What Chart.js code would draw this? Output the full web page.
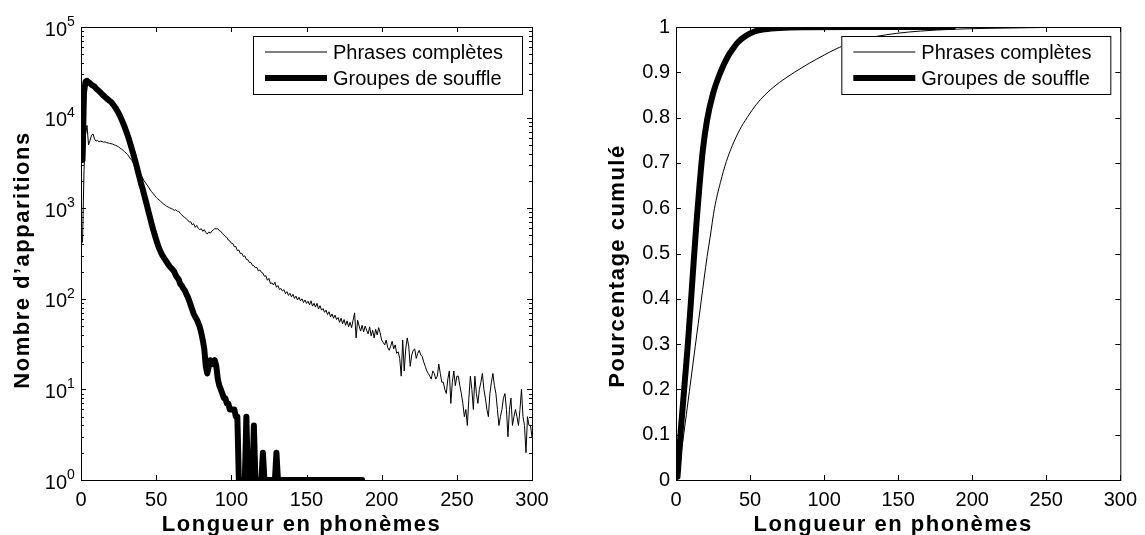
<!DOCTYPE html>
<html>
<head>
<meta charset="utf-8">
<title>Longueur en phonèmes</title>
<script src="https://cdn.jsdelivr.net/npm/chart.js@4.4.1/dist/chart.umd.min.js"></script>
<style>
    html, body { margin: 0; padding: 0; background: #fff; }
    #wrap { position: relative; width: 1145px; height: 535px; }
    .panel { position: absolute; top: 0; height: 535px; }
</style>
</head>
<body>
<div id="wrap">
    <div class="panel" style="left:0;width:572px"><canvas id="countChart" width="572" height="535"></canvas></div>
    <div class="panel" style="left:572px;width:573px"><canvas id="cumulChart" width="573" height="535"></canvas></div>
</div>
<script>
// ---- data ----
const seriesNames = ["Phrases complètes", "Groupes de souffle"];
const xTitle = "Longueur en phonèmes";
const countTitle = "Nombre d’apparitions";
const cumulTitle = "Pourcentage cumulé";
const xTickValues = [0, 50, 100, 150, 200, 250, 300];
const logDecades = [0, 1, 2, 3, 4, 5];
const cumulTickValues = [0, 0.1, 0.2, 0.3, 0.4, 0.5, 0.6, 0.7, 0.8, 0.9, 1];

// occurrences per length 1..300 (full sentences)
const phrasesCounts = [
    420, 2600, 6500, 8200, 5000, 5600, 6400, 6600, 5800, 5500,
    5600, 5400, 5500, 5450, 5350, 5400, 5300, 5250, 5200, 5150,
    5100, 5000, 4950, 4850, 4750, 4600, 4500, 4350, 4200, 4050,
    3900, 3700, 3500, 3350, 3150, 2950, 2800, 2600, 2450, 2300,
    2150, 2000, 1900, 1800, 1700, 1600, 1520, 1450, 1380, 1320,
    1270, 1230, 1190, 1150, 1110, 1080, 1050, 1030, 1010, 990,
    975, 945, 960, 925, 925, 875, 845, 810, 790, 765,
    740, 705, 710, 655, 675, 615, 645, 600, 580, 595,
    555, 580, 540, 520, 548, 528, 558, 575, 595, 590,
    595, 565, 555, 525, 512, 485, 476, 445, 435, 410,
    408, 375, 378, 340, 346, 315, 318, 292, 298, 272,
    270, 252, 252, 234, 232, 220, 222, 203, 208, 196,
    192, 177, 180, 160, 168, 147, 150, 142, 152, 134,
    140, 127, 130, 122, 126, 114, 120, 109, 115, 105,
    112, 101, 107, 97, 104, 95, 100, 91, 97, 89,
    94, 86, 95, 83, 89, 81, 89, 77, 84, 75,
    78, 71, 75, 67, 72, 63, 68, 61, 66, 59,
    62, 55, 61, 53, 59, 51, 57, 49, 55, 48,
    58, 70, 37, 58, 50, 44, 51, 43, 50, 45,
    41, 49, 39, 45, 37, 46, 40, 48, 42, 35,
    33, 31, 35, 29, 27, 30, 34, 28, 31, 25,
    26, 22, 14, 35, 16, 28, 37, 30, 18, 24,
    27, 28, 22, 25, 27, 24, 23, 20, 18, 16,
    15, 14, 13, 16, 15, 13, 14, 19, 15, 12,
    12, 10, 9, 13, 16, 7, 12, 16, 11, 14,
    14, 11, 9, 7, 5, 6, 4, 8, 14, 10,
    6, 14, 9, 7, 10, 12, 15, 10, 8, 6,
    5, 9, 12, 15, 11, 9, 6, 4, 5, 6,
    8, 9, 6, 3, 6, 8, 4, 5, 6, 5,
    4, 6, 10, 5, 4, 2, 5, 4, 4, 3
];

// occurrences per length 1..187 (breath groups)
const groupCounts = [
    3400, 19000, 25000, 25500, 24500, 24000, 23000, 22500, 22000, 21000,
    20300, 19600, 18900, 18200, 17500, 16900, 16300, 15800, 15300, 14900,
    14200, 13500, 12800, 12000, 11200, 10400, 9500, 8700, 7900, 7100,
    6400, 5700, 5000, 4400, 3850, 3350, 2900, 2500, 2150, 1850,
    1640, 1410, 1220, 1050, 900, 780, 670, 580, 510, 450,
    400, 360, 330, 305, 285, 270, 255, 240, 228, 218,
    210, 200, 182, 172, 163, 146, 140, 130, 124, 114,
    105, 95, 85, 76, 68, 63, 59, 54, 49, 42,
    35, 28, 18, 15, 18, 21, 20, 19, 21, 18,
    13, 11, 10, 9, 8, 8, 7, 7, 6, 6,
    6, 6, 5, 5, 1, 1, 1, 1, 1, 5,
    1, 1, 1, 1, 4, 1, 1, 1, 1, 1,
    2, 1, 1, 1, 1, 1, 1, 1, 1, 2,
    1, 1, 1, 1, 1, 1, 1, 1, 1, 1,
    1, 1, 1, 1, 1, 1, 1, 1, 1, 1,
    1, 1, 1, 1, 1, 1, 1, 1, 1, 1,
    1, 1, 1, 1, 1, 1, 1, 1, 1, 1,
    1, 1, 1, 1, 1, 1, 1, 1, 1, 1,
    1, 1, 1, 1, 1, 1, 1
];

// cumulative share, read at selected lengths
const phrasesCumX = [1, 2, 3, 5, 7, 9, 11, 13, 15, 17, 19, 21, 23, 26, 30, 34, 38, 43, 48, 54,
    60, 70, 80, 90, 100, 107, 114, 125, 135, 149, 165, 187, 210, 230, 250, 275, 300];
const phrasesCumY = [0.002, 0.013, 0.046, 0.095, 0.145, 0.195, 0.245, 0.295, 0.345, 0.395,
    0.445, 0.493, 0.535, 0.6, 0.657, 0.703, 0.738, 0.773, 0.8, 0.828,
    0.85, 0.878, 0.9, 0.92, 0.938, 0.95, 0.96, 0.972, 0.979, 0.986,
    0.991, 0.995, 0.997, 0.998, 0.999, 0.9995, 1];
const groupCumX = [1, 2, 3, 4, 5, 6, 8, 10, 12, 14, 16, 18, 21, 25, 30, 35, 38, 42, 47, 53,
    60, 70, 85, 120, 187];
const groupCumY = [0.007, 0.05, 0.1, 0.14, 0.18, 0.22, 0.3, 0.39, 0.485, 0.575,
    0.655, 0.725, 0.795, 0.853, 0.9, 0.935, 0.95, 0.967, 0.98, 0.99,
    0.995, 0.998, 0.9995, 1, 1];

// ---- helpers ----
const FONT = "'Liberation Sans', Arial, Helvetica, sans-serif";
Chart.defaults.font.family = FONT;
Chart.defaults.color = '#000';

const byLength = counts => counts.map((v, i) => ({ x: i + 1, y: v }));
const zip = (xs, ys) => xs.map((x, i) => ({ x, y: ys[i] }));

function lineSet(label, data, width, extra) {
    return Object.assign({
        label, data,
        borderColor: '#000',
        backgroundColor: '#000',
        borderWidth: width,
        borderJoinStyle: 'round',
        borderCapStyle: 'round',
        pointRadius: 0,
        fill: false,
        clip: 0
    }, extra || {});
}

// box, inward ticks, legend and axis titles, MATLAB style
function framePlugin(cfg) {
    return {
        id: 'matlabFrame',
        afterDatasetsDraw(chart) {
            const { ctx, chartArea: a, scales: { x, y } } = chart;
            ctx.save();
            ctx.strokeStyle = '#000';
            ctx.lineWidth = 1;

            const tick = (x1, y1, x2, y2) => {
                ctx.beginPath(); ctx.moveTo(x1, y1); ctx.lineTo(x2, y2); ctx.stroke();
            };
            xTickValues.forEach(v => {
                const px = Math.round(x.getPixelForValue(v)) + 0.5;
                tick(px, a.bottom, px, a.bottom - 5);
                tick(px, a.top, px, a.top + 5);
            });
            cfg.yTicks.forEach(([v, len]) => {
                const py = Math.round(y.getPixelForValue(v)) + 0.5;
                tick(a.left, py, a.left + len, py);
                tick(a.right, py, a.right - len, py);
            });
            ctx.strokeRect(a.left + 0.5, a.top + 0.5, a.right - a.left, a.bottom - a.top);

            // legend
            const bw = 269, bh = 58;
            const bx = a.right - 10 - bw, by = a.top + 9;
            ctx.fillStyle = '#fff';
            ctx.fillRect(bx, by, bw, bh);
            ctx.strokeRect(bx + 0.5, by + 0.5, bw, bh);
            ctx.font = '20px ' + FONT;
            ctx.textBaseline = 'middle';
            ctx.textAlign = 'left';
            chart.data.datasets.forEach((ds, i) => {
                const cy = by + 16 + i * 26;
                ctx.lineWidth = ds.borderWidth;
                ctx.lineCap = 'butt';
                tick(bx + 12, cy, bx + 74, cy);
                ctx.fillStyle = '#000';
                ctx.fillText(ds.label, bx + 80, cy + 1);
            });
            ctx.restore();
        },
        afterDraw(chart) {
            const { ctx, chartArea: a, scales: { y } } = chart;
            ctx.save();
            ctx.fillStyle = '#000';

            if (cfg.logLabels) {
                logDecades.forEach(k => {
                    const ty = y.getPixelForValue(Math.pow(10, k));
                    ctx.font = '20px ' + FONT;
                    ctx.textAlign = 'right';
                    ctx.textBaseline = 'alphabetic';
                    ctx.fillText('10', a.left - 14, ty + 8.5);
                    ctx.font = '14px ' + FONT;
                    ctx.textAlign = 'left';
                    ctx.fillText(String(k), a.left - 14, ty - 1);
                });
            }

            ctx.font = 'bold 22px ' + FONT;
            if ('letterSpacing' in ctx) ctx.letterSpacing = '1.5px';
            ctx.textAlign = 'center';
            ctx.textBaseline = 'alphabetic';
            ctx.fillText(xTitle, (a.left + a.right) / 2 - 5, 531);

            ctx.translate(cfg.yTitleX, cfg.yTitleY);
            ctx.rotate(-Math.PI / 2);
            ctx.fillText(cfg.yTitle, 0, 0);
            ctx.restore();
        }
    };
}

function baseOptions(pad, yWidth, yScale) {
    return {
        responsive: false,
        animation: false,
        events: [],
        layout: { padding: { top: 27, right: pad, left: 0, bottom: 0 } },
        plugins: { legend: { display: false }, tooltip: { enabled: false } },
        scales: {
            x: {
                type: 'linear', min: 0, max: 300,
                ticks: { stepSize: 50, padding: 8, maxRotation: 0, autoSkip: false, color: '#000', font: { size: 20 } },
                grid: { display: false, drawTicks: false },
                border: { display: false },
                afterFit: s => { s.height = 55; }
            },
            y: Object.assign({
                grid: { display: false, drawTicks: false },
                border: { display: false },
                afterFit: s => { s.width = yWidth; }
            }, yScale)
        }
    };
}

// ---- left: counts, log scale ----
const logTicks = [];
logDecades.forEach(k => {
    logTicks.push([Math.pow(10, k), 5]);
    if (k < 5) for (let m = 2; m <= 9; m++) logTicks.push([m * Math.pow(10, k), 3]);
});

new Chart(document.getElementById('countChart'), {
    type: 'line',
    data: {
        datasets: [
            lineSet(seriesNames[0], byLength(phrasesCounts), 1),
            lineSet(seriesNames[1], byLength(groupCounts), 6)
        ]
    },
    options: baseOptions(40, 81, {
        type: 'logarithmic', min: 1, max: 100000,
        ticks: { display: false }
    }),
    plugins: [framePlugin({ yTicks: logTicks, logLabels: true, yTitle: countTitle, yTitleX: 29, yTitleY: 260 })]
});

// ---- right: cumulative share ----
new Chart(document.getElementById('cumulChart'), {
    type: 'line',
    data: {
        datasets: [
            lineSet(seriesNames[0], zip(phrasesCumX, phrasesCumY), 1, { cubicInterpolationMode: 'monotone' }),
            lineSet(seriesNames[1], zip(groupCumX, groupCumY), 6, { cubicInterpolationMode: 'monotone' })
        ]
    },
    options: baseOptions(18, 104, {
        type: 'linear', min: 0, max: 1,
        afterBuildTicks: s => { s.ticks = cumulTickValues.map(v => ({ value: v })); },
        ticks: { padding: 6, color: '#000', font: { size: 20 }, callback: v => String(+v.toFixed(1)) }
    }),
    plugins: [framePlugin({ yTicks: cumulTickValues.map(v => [v, 5]), logLabels: false, yTitle: cumulTitle, yTitleX: 52, yTitleY: 266 })]
});
</script>
</body>
</html>
